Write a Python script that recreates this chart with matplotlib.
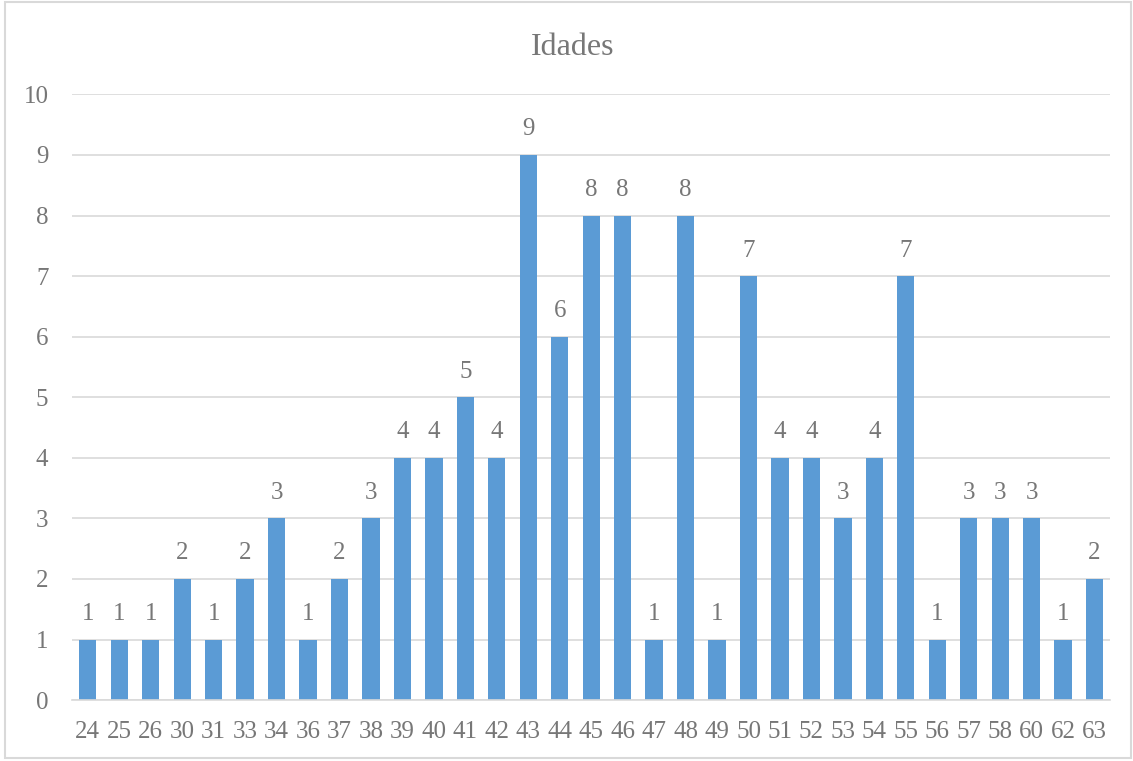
import matplotlib
matplotlib.use("Agg")
import matplotlib.pyplot as plt
from matplotlib.patches import Rectangle

plt.rcParams['font.family'] = ['Liberation Serif', 'DejaVu Serif']

# idades e quantidade de pessoas por idade
idades = ['24', '25', '26', '30', '31', '33', '34', '36', '37', '38', '39',
          '40', '41', '42', '43', '44', '45', '46', '47', '48', '49', '50',
          '51', '52', '53', '54', '55', '56', '57', '58', '60', '62', '63']
contagem = [1, 1, 1, 2, 1, 2, 3, 1, 2, 3, 4,
            4, 5, 4, 9, 6, 8, 8, 1, 8, 1, 7,
            4, 4, 3, 4, 7, 1, 3, 3, 3, 1, 2]

cor_barra = '#5B9BD5'
cor_texto = '#777777'

fig = plt.figure(figsize=(11.33, 7.61), dpi=100)
ax = fig.add_axes([0.0636, 0.080, 0.9164, 0.796])

x = range(len(idades))
bars = ax.bar(x, contagem, width=0.55, color=cor_barra, zorder=3)

for b, v in zip(bars, contagem):
    ax.text(b.get_x() + b.get_width() / 2, v + 0.24, str(v),
            ha='center', va='bottom', fontsize=18, color=cor_texto)

ax.set_xlim(-0.5, len(idades) - 0.5)
ax.set_ylim(0, 10)
ax.set_yticks(range(0, 11))
ax.set_xticks(list(x))
ax.set_xticklabels(idades)
ax.tick_params(axis='both', length=0, labelsize=18, colors=cor_texto)
ax.tick_params(axis='y', pad=17)
ax.tick_params(axis='x', pad=15)

ax.yaxis.grid(True, color='#D9D9D9', linewidth=1.2, zorder=0)
for s in ['top', 'right', 'left']:
    ax.spines[s].set_visible(False)
ax.spines['bottom'].set_color('#D9D9D9')
ax.spines['bottom'].set_linewidth(1.2)
ax.spines['bottom'].set_zorder(4)

fig.text(0.505, 0.938, 'Idades', ha='center', va='center', fontsize=23,
         color=cor_texto)

# moldura do gráfico
fig.patches.append(Rectangle((0.004, 0.004), 0.994, 0.993,
                             transform=fig.transFigure, fill=False,
                             edgecolor='#D9D9D9', linewidth=1.5))

fig.savefig('out.png', dpi=100)
